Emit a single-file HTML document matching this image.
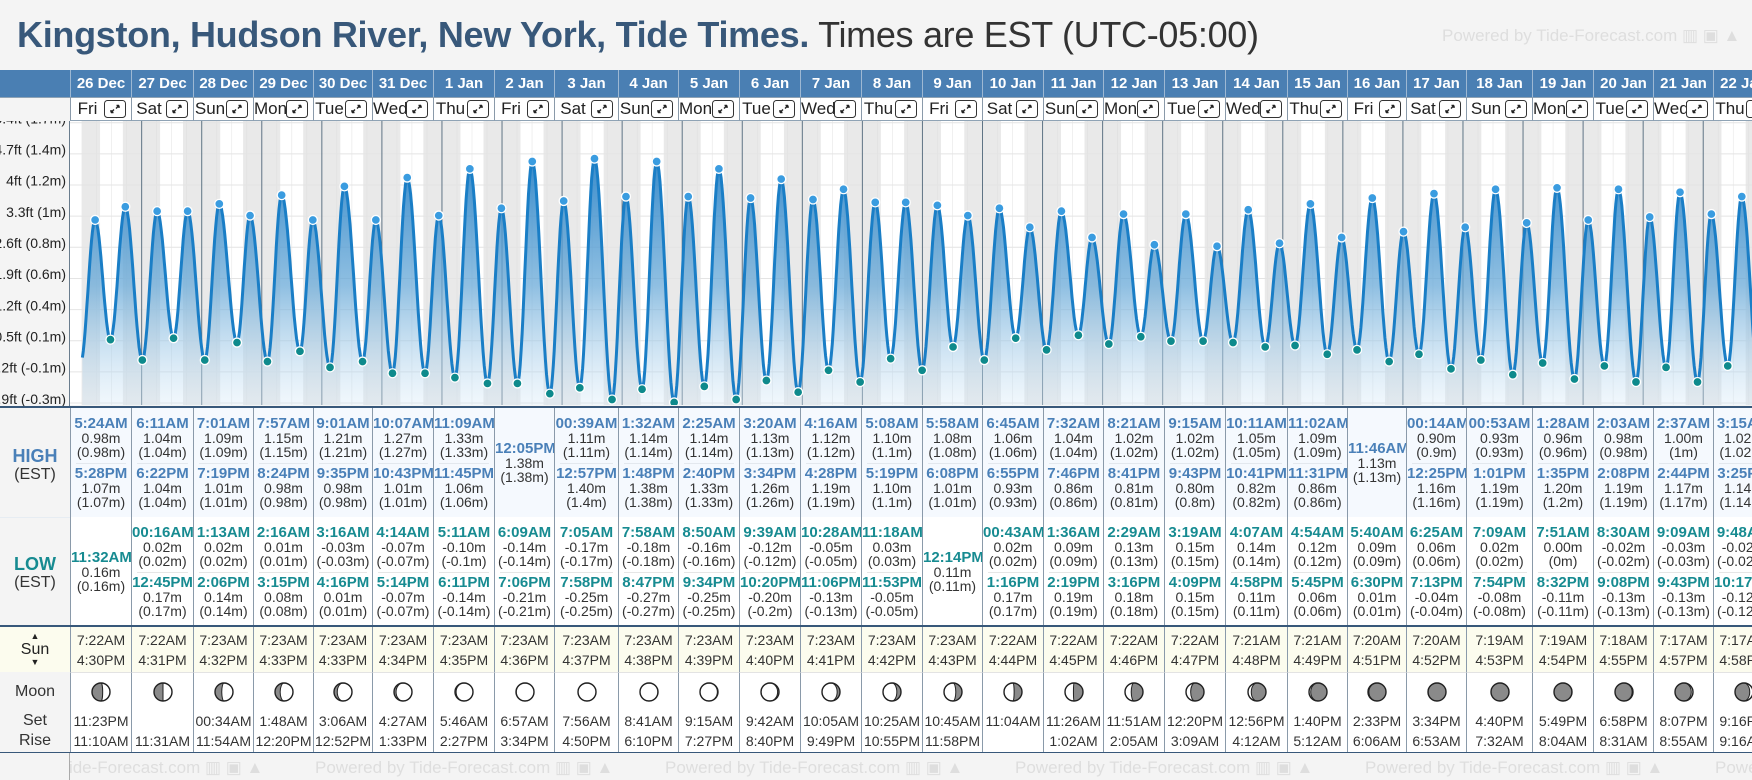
<!DOCTYPE html>
<html><head><meta charset="utf-8"><style>
*{margin:0;padding:0;box-sizing:border-box}
body{width:1752px;height:780px;overflow:hidden;background:#f4f4f4;font-family:"Liberation Sans",sans-serif;position:relative;color:#222}
.abs{position:absolute}
#title{left:17px;top:14px;font-size:36px;white-space:nowrap;letter-spacing:-0.3px}
#title b{color:#38587a}
#title span{color:#333}
.wm{color:#dedede;font-size:17px;white-space:nowrap}
.cell{position:absolute;text-align:center;overflow:hidden}
.tm{font-weight:bold;font-size:15px;line-height:15px}
.vl{font-size:14px;line-height:14px;color:#333}
</style></head><body>
<div id="title" class="abs"><b>Kingston, Hudson River, New York, Tide Times.</b> <span>Times are EST (UTC-05:00)</span></div>
<div class="abs wm" style="left:1442px;top:26px">Powered by Tide-Forecast.com ▥ ▣ ▲</div>
<svg id="chart" class="abs" style="left:0;top:0" width="1752" height="410"></svg>
<div id="tbl" class="abs" style="left:0;top:0;width:1752px;height:780px;overflow:hidden"></div>
<script>
const days=["26 Dec","27 Dec","28 Dec","29 Dec","30 Dec","31 Dec","1 Jan","2 Jan","3 Jan","4 Jan","5 Jan","6 Jan","7 Jan","8 Jan","9 Jan","10 Jan","11 Jan","12 Jan","13 Jan","14 Jan","15 Jan","16 Jan","17 Jan","18 Jan","19 Jan","20 Jan","21 Jan","22 Jan"];
const dows=["Fri","Sat","Sun","Mon","Tue","Wed","Thu","Fri","Sat","Sun","Mon","Tue","Wed","Thu","Fri","Sat","Sun","Mon","Tue","Wed","Thu","Fri","Sat","Sun","Mon","Tue","Wed","Thu"];
const highT=[["5:24AM","5:28PM"],["6:11AM","6:22PM"],["7:01AM","7:19PM"],["7:57AM","8:24PM"],["9:01AM","9:35PM"],["10:07AM","10:43PM"],["11:09AM","11:45PM"],["12:05PM"],["00:39AM","12:57PM"],["1:32AM","1:48PM"],["2:25AM","2:40PM"],["3:20AM","3:34PM"],["4:16AM","4:28PM"],["5:08AM","5:19PM"],["5:58AM","6:08PM"],["6:45AM","6:55PM"],["7:32AM","7:46PM"],["8:21AM","8:41PM"],["9:15AM","9:43PM"],["10:11AM","10:41PM"],["11:02AM","11:31PM"],["11:46AM"],["00:14AM","12:25PM"],["00:53AM","1:01PM"],["1:28AM","1:35PM"],["2:03AM","2:08PM"],["2:37AM","2:44PM"],["3:15AM","3:25PM"]];
const highV=[[0.98,1.07],[1.04,1.04],[1.09,1.01],[1.15,0.98],[1.21,0.98],[1.27,1.01],[1.33,1.06],[1.38],[1.11,1.40],[1.14,1.38],[1.14,1.33],[1.13,1.26],[1.12,1.19],[1.10,1.10],[1.08,1.01],[1.06,0.93],[1.04,0.86],[1.02,0.81],[1.02,0.80],[1.05,0.82],[1.09,0.86],[1.13],[0.90,1.16],[0.93,1.19],[0.96,1.20],[0.98,1.19],[1.00,1.17],[1.02,1.14]];
const lowT=[["11:32AM"],["00:16AM","12:45PM"],["1:13AM","2:06PM"],["2:16AM","3:15PM"],["3:16AM","4:16PM"],["4:14AM","5:14PM"],["5:11AM","6:11PM"],["6:09AM","7:06PM"],["7:05AM","7:58PM"],["7:58AM","8:47PM"],["8:50AM","9:34PM"],["9:39AM","10:20PM"],["10:28AM","11:06PM"],["11:18AM","11:53PM"],["12:14PM"],["00:43AM","1:16PM"],["1:36AM","2:19PM"],["2:29AM","3:16PM"],["3:19AM","4:09PM"],["4:07AM","4:58PM"],["4:54AM","5:45PM"],["5:40AM","6:30PM"],["6:25AM","7:13PM"],["7:09AM","7:54PM"],["7:51AM","8:32PM"],["8:30AM","9:08PM"],["9:09AM","9:43PM"],["9:48AM","10:17PM"]];
const lowV=[[0.16],[0.02,0.17],[0.02,0.14],[0.01,0.08],[-0.03,0.01],[-0.07,-0.07],[-0.10,-0.14],[-0.14,-0.21],[-0.17,-0.25],[-0.18,-0.27],[-0.16,-0.25],[-0.12,-0.20],[-0.05,-0.13],[0.03,-0.05],[0.11],[0.02,0.17],[0.09,0.19],[0.13,0.18],[0.15,0.15],[0.14,0.11],[0.12,0.06],[0.09,0.01],[0.06,-0.04],[0.02,-0.08],[-0.00,-0.11],[-0.02,-0.13],[-0.03,-0.13],[-0.02,-0.12]];
const sunRise=["7:22AM","7:22AM","7:23AM","7:23AM","7:23AM","7:23AM","7:23AM","7:23AM","7:23AM","7:23AM","7:23AM","7:23AM","7:23AM","7:23AM","7:23AM","7:22AM","7:22AM","7:22AM","7:22AM","7:21AM","7:21AM","7:20AM","7:20AM","7:19AM","7:19AM","7:18AM","7:17AM","7:17AM"];
const sunSet=["4:30PM","4:31PM","4:32PM","4:33PM","4:33PM","4:34PM","4:35PM","4:36PM","4:37PM","4:38PM","4:39PM","4:40PM","4:41PM","4:42PM","4:43PM","4:44PM","4:45PM","4:46PM","4:47PM","4:48PM","4:49PM","4:51PM","4:52PM","4:53PM","4:54PM","4:55PM","4:57PM","4:58PM"];
const moonSet=["11:23PM","","00:34AM","1:48AM","3:06AM","4:27AM","5:46AM","6:57AM","7:56AM","8:41AM","9:15AM","9:42AM","10:05AM","10:25AM","10:45AM","11:04AM","11:26AM","11:51AM","12:20PM","12:56PM","1:40PM","2:33PM","3:34PM","4:40PM","5:49PM","6:58PM","8:07PM","9:16PM"];
const moonRise=["11:10AM","11:31AM","11:54AM","12:20PM","12:52PM","1:33PM","2:27PM","3:34PM","4:50PM","6:10PM","7:27PM","8:40PM","9:49PM","10:55PM","11:58PM","","1:02AM","2:05AM","3:09AM","4:12AM","5:12AM","6:06AM","6:53AM","7:32AM","8:04AM","8:31AM","8:55AM","9:16AM"];
const moonPhase=[0.22,0.25,0.29,0.32,0.36,0.39,0.42,0.46,0.49,0.53,0.56,0.59,0.63,0.66,0.70,0.73,0.76,0.80,0.83,0.86,0.90,0.93,0.97,0.00,0.03,0.07,0.10,0.14];
const tickFt=[5.4,4.7,4,3.3,2.6,1.9,1.2,0.5,-0.2,-0.9];
const tickLabels=["5.4ft (1.7m)","4.7ft (1.4m)","4ft (1.2m)","3.3ft (1m)","2.6ft (0.8m)","1.9ft (0.6m)","1.2ft (0.4m)","0.5ft (0.1m)","-0.2ft (-0.1m)","-0.9ft (-0.3m)"];
const prevLow={t:-0.4,v:0.0};

const colEdges=[70,131,193,253,313,372,433,494,554,618,678,739,800,861,922,982,1043,1103,1164,1225,1287,1347,1406,1466,1532,1593,1653,1713,1773];
const X0=81.6,DAY=60.06;
function xs(h){return X0+h*DAY/24}
function ys(m){return 363-146*m}
function parseT(s){const m=s.match(/(\d+):(\d+)(AM|PM)/);let h=+m[1]%12;if(m[3]=="PM")h+=12;return h+ +m[2]/60}
function paren(v){let s=(+v.toFixed(2)).toString();if(s=="-0")s="0";return "("+s+"m)"}
const NS="http://www.w3.org/2000/svg";
const svg=document.getElementById('chart');
function mk(tag,attrs,parent){const e=document.createElementNS(NS,tag);for(const k in attrs)e.setAttribute(k,attrs[k]);(parent||svg).appendChild(e);return e}
const defs=mk('defs',{});
const g=mk('linearGradient',{id:'fillG',x1:0,y1:140,x2:0,y2:405,gradientUnits:'userSpaceOnUse'},defs);
mk('stop',{offset:'0','stop-color':'#1f7cc4','stop-opacity':'0.95'},g);
mk('stop',{offset:'0.55','stop-color':'#6aaad8','stop-opacity':'0.75'},g);
mk('stop',{offset:'1','stop-color':'#d6e9f7','stop-opacity':'0.35'},g);
const cp=mk('clipPath',{id:'plotClip'},defs);mk('rect',{x:70,y:121,width:1682,height:284},cp);
const bg=mk('rect',{x:0,y:97,width:70,height:311,fill:'#f4f4f4'});

const plot=mk('g',{'clip-path':'url(#plotClip)'});
mk('rect',{x:70,y:121,width:1682,height:287,fill:'#ffffff'},plot);
for(let d=0;d<days.length;d++){
  const start=d==0?0:(d-1)*24+parseT(sunSet[d-1]);
  const end=d*24+parseT(sunRise[d]);
  const r=mk('rect',{x:xs(start),y:121,width:xs(end)-xs(start),height:287,fill:'#e9e9e9'},plot);
  
}
{const d=days.length-1;const s=d*24+parseT(sunSet[d]);mk('rect',{x:xs(s),y:121,width:400,height:287,fill:'#e9e9e9'},plot);}
for(let h=6;h<days.length*24;h+=6){if(h%24)mk('line',{x1:xs(h),x2:xs(h),y1:121,y2:405,stroke:'#dcdcdc','stroke-width':0.6,opacity:0.7},plot);}
tickFt.forEach((f,i)=>{const y=ys(f/3.2808);
  const l=mk('line',{x1:70,x2:1752,y1:y,y2:y,stroke:'#e4e4e4','stroke-width':1},plot);
  
  const t=mk('text',{x:66,y:y-3,'text-anchor':'end','dominant-baseline':'middle','font-size':14,fill:'#222','font-family':'Liberation Sans'});
  t.textContent=tickLabels[i];
});
for(let d=1;d<=days.length;d++){const l=mk('line',{x1:xs(d*24),x2:xs(d*24),y1:121,y2:405,stroke:'#5f7485','stroke-width':1},plot);
  }
const ext=[prevLow];const hiPts=[],loPts=[];
for(let d=0;d<days.length;d++){
  highT[d].forEach((s,i)=>{const p={t:d*24+parseT(s),v:highV[d][i]};ext.push(p);hiPts.push(p)});
  lowT[d].forEach((s,i)=>{const p={t:d*24+parseT(s),v:lowV[d][i]};ext.push(p);loPts.push(p)});
}
ext.sort((a,b)=>a.t-b.t);
let pts=[];
for(let i=0;i<ext.length-1;i++){const a=ext[i],b=ext[i+1];const n=16;
  for(let k=(i==0?0:1);k<=n;k++){const f=k/n;const t=a.t+(b.t-a.t)*f;const v=a.v+(b.v-a.v)*(1-Math.cos(Math.PI*f))/2;if(t>=0)pts.push([xs(t),ys(v)]);}}
const dl=pts.map((p,i)=>(i?'L':'M')+p[0].toFixed(1)+' '+p[1].toFixed(1)).join('');
const area=mk('path',{d:dl+`L${pts[pts.length-1][0].toFixed(1)} 408L${pts[0][0].toFixed(1)} 408Z`,fill:'url(#fillG)'},plot);

const line=mk('path',{d:dl,fill:'none',stroke:'#1a7ec6','stroke-width':3,'stroke-linejoin':'round'},plot);

hiPts.forEach(p=>{const c=mk('circle',{cx:xs(p.t),cy:ys(p.v),r:4.5,fill:'#3a9ce0',stroke:'#fff','stroke-width':1.3},plot);
  });
loPts.forEach(p=>{const c=mk('circle',{cx:xs(p.t),cy:ys(p.v),r:4.5,fill:'#0e8a8c',stroke:'#fff','stroke-width':1.3},plot);
  });
mk('line',{x1:69.5,x2:69.5,y1:97,y2:408,stroke:'#6a7d8e','stroke-width':1});

const T=document.getElementById('tbl');
function div(cls,style,html,name,inter){const e=document.createElement('div');e.className=cls;e.style.cssText=style;if(html!=null)e.innerHTML=html;
  T.appendChild(e);return e}
div('abs','left:0;top:70px;width:1752px;height:27px;background:#4a7fb3',null,'date-header-row',false);
div('abs','left:0;top:97px;width:70px;height:24px;background:#f4f4f4;border-top:1px solid #8fa3b5',null,'header-corner',false);
div('abs','left:0;top:406px;width:1752px;height:2.5px;background:#38587a',null,'chart-bottom-border',false);
div('abs','left:0;top:408px;width:70px;height:109px;background:#f4f4f4;text-align:center;padding-top:38px','<div style="color:#4a80b8;font-weight:bold;font-size:18px;line-height:20px">HIGH</div><div style="font-size:16px;color:#333;line-height:18px">(EST)</div>','high-label',false);
div('abs','left:0;top:517px;width:70px;height:108px;background:#f4f4f4;text-align:center;padding-top:37px','<div style="color:#178b91;font-weight:bold;font-size:18px;line-height:20px">LOW</div><div style="font-size:16px;color:#333;line-height:18px">(EST)</div>','low-label',false);
div('abs','left:0;top:517px;width:1752px;height:1px;background:#e6ecf2',null,'high-low-divider',false);
div('abs','left:0;top:624.5px;width:1752px;height:2.5px;background:#38587a',null,'tide-table-bottom-border',false);
div('abs','left:0;top:627px;width:1752px;height:45px;background:#fcfcee',null,'sun-row',false);
div('abs','left:0;top:627px;width:70px;height:45px;background:#fcfcee;text-align:center;padding-top:5px','<div style="font-size:9px;line-height:9px">▲</div><div style="font-size:16px;line-height:17px">Sun</div><div style="font-size:9px;line-height:9px">▼</div>','sun-label',false);
div('abs','left:0;top:672px;width:1752px;height:80px;background:#fff',null,'moon-row',false);
div('abs','left:0;top:672px;width:70px;height:80px;background:#f4f4f4;text-align:center;font-size:16px;line-height:20px;padding-top:10px;color:#333','Moon<div style="height:9px"></div>Set<br>Rise','moon-label',false);
div('abs','left:0;top:752px;width:1752px;height:1.5px;background:#38587a',null,'table-bottom-border',false);
div('abs','left:0;top:753px;width:1752px;height:27px;background:#f4f4f4;overflow:hidden',null,'footer',false);
for(let x=-35;x<1752;x+=350){div('abs wm',`left:${x}px;top:758px;clip-path:inset(0 0 0 ${Math.max(0,70-x)}px)`,'Powered by Tide-Forecast.com ▥ ▣ ▲','footer-watermark',false);}
div('abs','left:69px;top:753px;width:1px;height:27px;background:#aaa',null,'footer-divider',false);

function moonSVG(p){const r=9,cx=12,cy=12;const k=(1-Math.cos(2*Math.PI*p))/2;const rx=Math.abs(1-2*k)*r;
  const wax=p<0.5;let d;
  if(wax){d=`M${cx} ${cy-r}A${r} ${r} 0 0 1 ${cx} ${cy+r}A${rx} ${r} 0 0 ${k<0.5?0:1} ${cx} ${cy-r}Z`;}
  else{d=`M${cx} ${cy-r}A${r} ${r} 0 0 0 ${cx} ${cy+r}A${rx} ${r} 0 0 ${k<0.5?1:0} ${cx} ${cy-r}Z`;}
  return `<svg width="24" height="24"><circle cx="${cx}" cy="${cy}" r="${r}" fill="#8a8a8a"/><path d="${d}" fill="#fff" stroke="#222" stroke-width="1"/><circle cx="${cx}" cy="${cy}" r="${r}" fill="none" stroke="#222" stroke-width="1.4"/></svg>`;}
const icon='<svg width="22" height="18" viewBox="0 0 22 18"><rect x="0.5" y="0.5" width="21" height="17" rx="3" fill="#fff" stroke="#333"/><path d="M7 12.5L10 9.5M7 12.5V10M7 12.5H9.5M15 5.5L12 8.5M15 5.5V8M15 5.5H12.5" stroke="#222" stroke-width="1.4" fill="none"/></svg>';
function entry(t,v,color){return `<div class="tm" style="color:${color}">${t}</div><div class="vl">${v.toFixed(2)}m</div><div class="vl">${paren(v)}</div>`}
for(let d=0;d<days.length;d++){
  const L=colEdges[d],W=colEdges[d+1]-L;
  div('cell',`left:${L}px;top:70px;width:${W}px;height:27px;color:#fff;font-weight:bold;font-size:15px;line-height:27px;border-left:1px solid #9db8d3`,days[d],'date-header',false);
  div('cell',`left:${L}px;top:97px;width:${W}px;height:24px;background:#fff;border-left:1px solid #8a9aaa;border-top:1px solid #8fa3b5;border-bottom:1px solid #8fa3b5;text-align:left`,`<span style="position:absolute;left:0;width:${W-28}px;text-align:center;top:1px;font-size:17px;line-height:20px">${dows[d]}</span><span style="position:absolute;right:5px;top:2px;line-height:0">${icon}</span>`,'day-header',true);
  let h='';const hc='#4a80b8';
  if(highT[d].length==2){h=`<div style="position:absolute;top:8px;width:100%">${entry(highT[d][0],highV[d][0],hc)}</div><div style="position:absolute;top:55px;left:8%;width:84%;border-top:1px solid #e3e8ee"></div><div style="position:absolute;top:58px;width:100%">${entry(highT[d][1],highV[d][1],hc)}</div>`}
  else h=`<div style="position:absolute;top:33px;width:100%">${entry(highT[d][0],highV[d][0],hc)}</div>`;
  div('cell',`left:${L}px;top:408px;width:${W}px;height:109px;background:#f5f9fe;border-left:1px solid #8a9aaa`,h,'high-tide-cell',false);
  let l='';const lc='#178b91';
  if(lowT[d].length==2){l=`<div style="position:absolute;top:8px;width:100%">${entry(lowT[d][0],lowV[d][0],lc)}</div><div style="position:absolute;top:55px;left:8%;width:84%;border-top:1px solid #e6e6e6"></div><div style="position:absolute;top:58px;width:100%">${entry(lowT[d][1],lowV[d][1],lc)}</div>`}
  else l=`<div style="position:absolute;top:33px;width:100%">${entry(lowT[d][0],lowV[d][0],lc)}</div>`;
  div('cell',`left:${L}px;top:517px;width:${W}px;height:108px;background:#fff;border-left:1px solid #8a9aaa`,l,'low-tide-cell',false);
  div('cell',`left:${L}px;top:627px;width:${W}px;height:45px;border-left:1px solid #8a9aaa;font-size:14px;line-height:20px;padding-top:3px;color:#333`,`${sunRise[d]}<br>${sunSet[d]}`,'sun-times-cell',false);
  div('cell',`left:${L}px;top:672px;width:${W}px;height:80px;border-left:1px solid #8a9aaa;font-size:14px;line-height:20px;color:#333;border-top:1px solid #e3e3e3`,`<div style="height:34px;padding-top:7px;line-height:0">${moonSVG(moonPhase[d])}</div><div style="margin-top:4px">${moonSet[d]||'&nbsp;'}</div><div>${moonRise[d]||'&nbsp;'}</div>`,'moon-cell',false);
}
</script>
</body></html>
